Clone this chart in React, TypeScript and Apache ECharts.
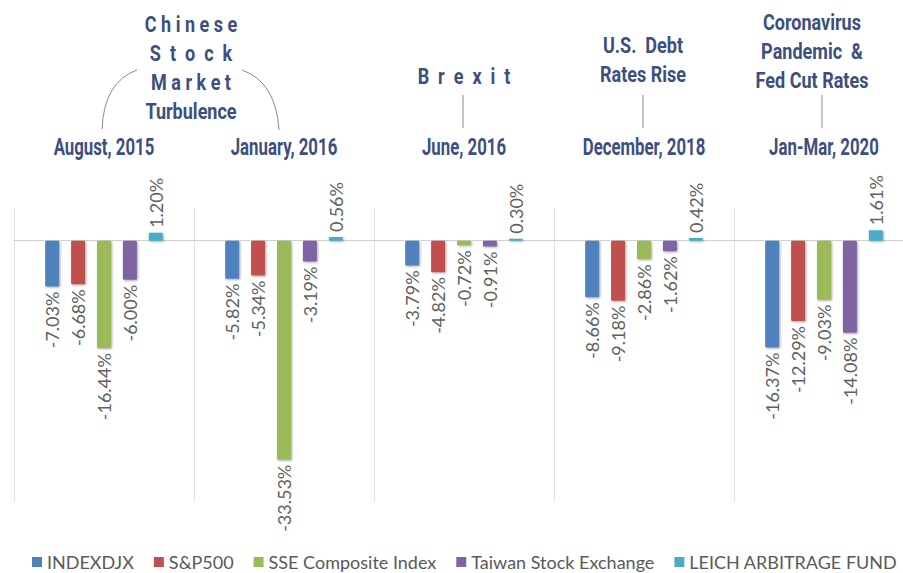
import React, { useEffect, useRef } from 'react';
import * as echarts from 'echarts';

const categories = ['August, 2015', 'January, 2016', 'June, 2016', 'December, 2018', 'Jan-Mar, 2020'];
const seriesNames = ['INDEXDJX', 'S&P500', 'SSE Composite Index', 'Taiwan Stock Exchange', 'LEICH ARBITRAGE FUND'];
const indexDJX = [-7.03, -5.82, -3.79, -8.66, -16.37];
const sp500 = [-6.68, -5.34, -4.82, -9.18, -12.29];
const sseComposite = [-16.44, -33.53, -0.72, -2.86, -9.03];
const taiwanStock = [-6.0, -3.19, -0.91, -1.62, -14.08];
const leichFund = [1.2, 0.56, 0.3, 0.42, 1.61];
const colors = ['#4F81BD', '#C0504D', '#9BBB59', '#8064A2', '#4BACC6'];

const chineseLines = ['C h i n e s e', 'S  t  o  c  k', 'M a r k e t', 'Turbulence'];
const brexitLines = ['B  r  e  x  i  t'];
const debtLines = ['U.S.  Debt', 'Rates Rise'];
const coronaLines = ['Coronavirus', 'Pandemic  &', 'Fed Cut Rates'];

const ANN_COLOR = '#3d4f80';
const ANN_FONT = 'Roboto, sans-serif';
const LABEL_FONT = 'Lato, sans-serif';

export default function App() {
  const ref = useRef<HTMLDivElement>(null);

  useEffect(() => {
    if (!ref.current) return;
    const chart = echarts.init(ref.current, null, { renderer: 'svg' });
    const values = [indexDJX, sp500, sseComposite, taiwanStock, leichFund];

    const series = values.map((vals, i) => {
      const positive = vals.every((v) => v >= 0);
      return {
        name: seriesNames[i],
        type: 'bar',
        data: vals,
        barWidth: 14,
        barGap: '85%',
        itemStyle: {
          color: colors[i],
          borderRadius: 1,
          shadowColor: 'rgba(0,0,0,0.35)',
          shadowBlur: 2,
          shadowOffsetX: 1,
          shadowOffsetY: 1,
        },
        label: {
          show: true,
          position: positive ? 'top' : 'bottom',
          rotate: 90,
          align: positive ? 'left' : 'right',
          verticalAlign: 'middle',
          distance: 5,
          color: '#606060',
          fontSize: 18,
          fontFamily: LABEL_FONT,
          formatter: (p: any) => p.value.toFixed(2) + '%',
        },
      };
    });

    const annText = (t: string, cx: number, y: number, size: number, scale: number) => ({
      type: 'text',
      x: cx,
      y,
      scaleX: scale,
      style: {
        text: t,
        fill: ANN_COLOR,
        fontSize: size,
        fontWeight: 'bold',
        fontFamily: ANN_FONT,
        align: 'center',
        verticalAlign: 'middle',
      },
    });

    const textLines = (lines: string[], cx: number, y0: number, step: number) =>
      lines.map((t, k) => annText(t, cx, y0 + k * step, 22, 0.82));

    const lineStyle = { stroke: '#8a8a8a', lineWidth: 1, fill: 'none' };

    chart.setOption({
      animation: false,
      color: colors,
      grid: { left: 14, top: 208, width: 900, height: 294, outerBoundsMode: 'none', containLabel: false },
      legend: {
        data: seriesNames,
        left: 27,
        top: 548,
        itemWidth: 10,
        itemHeight: 10,
        itemGap: 20,
        icon: 'rect',
        textStyle: { color: '#595959', fontSize: 18, fontFamily: LABEL_FONT },
      },
      xAxis: {
        type: 'category',
        data: categories,
        position: 'bottom',
        axisLine: { show: true, onZero: true, lineStyle: { color: '#d0d0d0', width: 1 } },
        axisTick: { show: false },
        axisLabel: { show: false },
        splitLine: { show: true, lineStyle: { color: '#e3e3e3', width: 1 } },
      },
      yAxis: { type: 'value', min: -40, max: 5, show: false },
      series,
    });

    const catX = categories.map((c) => chart.convertToPixel({ xAxisIndex: 0 }, c) as number);

    chart.setOption({
      graphic: [
        ...categories.map((c, i) => annText(c, catX[i], 147, 24, 0.7)),
        ...textLines(chineseLines, 191, 24, 29),
        ...textLines(brexitLines, 464, 76, 29),
        ...textLines(debtLines, 643, 45, 29),
        ...textLines(coronaLines, 812, 22, 29),
        {
          type: 'bezierCurve',
          shape: { x1: 102, y1: 129, cpx1: 104, cpy1: 82, x2: 137, y2: 70 },
          style: lineStyle,
        },
        {
          type: 'bezierCurve',
          shape: { x1: 242, y1: 70, cpx1: 276, cpy1: 82, x2: 279, y2: 130 },
          style: lineStyle,
        },
        { type: 'line', shape: { x1: 463, y1: 95, x2: 463, y2: 128 }, style: lineStyle },
        { type: 'line', shape: { x1: 643, y1: 95, x2: 643, y2: 128 }, style: lineStyle },
        { type: 'line', shape: { x1: 822, y1: 95, x2: 822, y2: 128 }, style: lineStyle },
      ],
    });

    return () => chart.dispose();
  }, []);

  return (
    <div
      ref={ref}
      style={{ position: 'fixed', left: 0, top: 0, width: 903, height: 573, background: '#ffffff' }}
    />
  );
}
